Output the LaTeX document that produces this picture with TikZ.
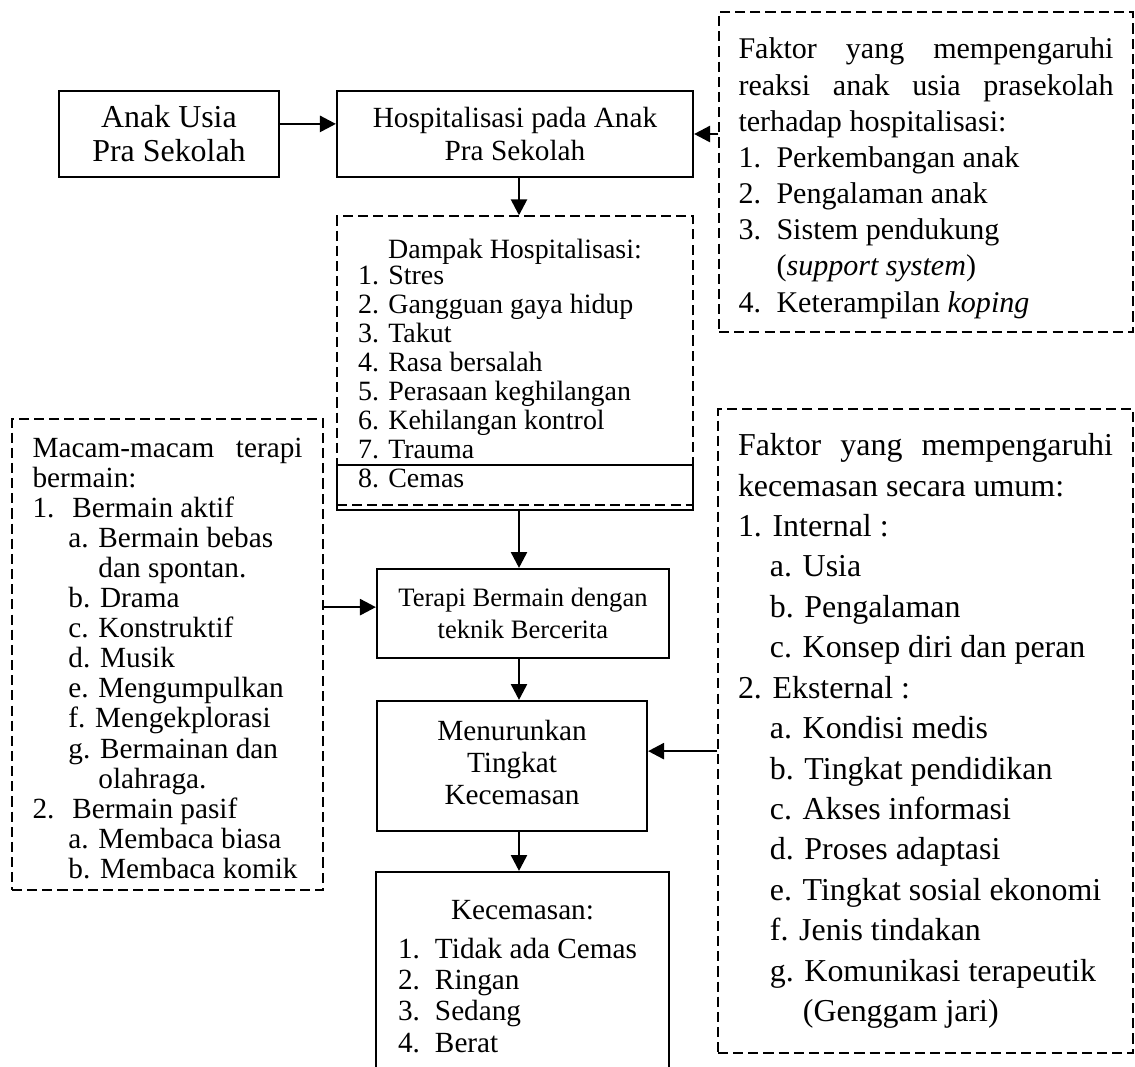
\documentclass[tikz,border=0pt]{standalone}
\usepackage{fontspec}
\setmainfont{Liberation Serif}
\usetikzlibrary{arrows.meta,positioning}

\begin{document}
\begin{tikzpicture}[x=0.376pt,y=-0.376pt]
    \tikzstyle{box}=[draw, line width=0.8pt, inner sep=0pt, align=flush center]
    \tikzstyle{dbox}=[draw, line width=0.55pt, dash pattern=on 3.8pt off 1.9pt, inner sep=0pt, align=flush left]
    \tikzstyle{arr}=[-{Triangle[length=6pt,width=6pt]}, line width=1pt]

    \useasboundingbox (0,0) rectangle (1135,1066);
    \clip (0,0) rectangle (1135,1066);
    \coordinate (axis) at (519,0);

    % top row
    \node[box, minimum width=82.72pt, minimum height=32.34pt, font=\fontsize{12}{12.8}\selectfont] (anak) at (169,134) {Anak Usia\\Pra Sekolah};
    \node[box, minimum width=133.86pt, minimum height=32.34pt, font=\fontsize{11}{12.4}\selectfont] (hosp) at (515,134) {Hospitalisasi pada Anak\\Pra Sekolah};
    \node[dbox, minimum width=155.66pt, minimum height=120.32pt, text width=141pt, font=\fontsize{11.3}{13.6}\selectfont] (fak1) at (926,172)
      {\rule{0pt}{12.5pt}\makebox[141pt][s]{Faktor yang mempengaruhi}\\
       \makebox[141pt][s]{reaksi anak usia prasekolah}\\
       terhadap hospitalisasi:\\
       \makebox[14.3pt][l]{1.}Perkembangan anak\\
       \makebox[14.3pt][l]{2.}Pengalaman anak\\
       \makebox[14.3pt][l]{3.}Sistem pendukung\\
       \hspace*{14.3pt}(\textit{support system})\\
       \makebox[14.3pt][l]{4.}Keterampilan \textit{koping}};

    % dampak
    \node[dbox, minimum width=133.86pt, minimum height=108.66pt, text width=118pt, font=\fontsize{10.5}{10.9}\selectfont] (dampak) at (515,360.5)
      {\rule{0pt}{9.2pt}\makebox[118pt][c]{Dampak Hospitalisasi:}\\[-1.1pt]
       1. Stres\\
       2. Gangguan gaya hidup\\
       3. Takut\\
       4. Rasa bersalah\\
       5. Perasaan keghilangan\\
       6. Kehilangan kontrol\\
       7. Trauma\\
       8. Cemas};
    \node[box, minimum width=133.86pt, minimum height=16.92pt] (cemas) at (515,487.5) {};

    % terapi bermain
    \node[dbox, minimum width=116.94pt, minimum height=177.1pt, text width=101.5pt, font=\fontsize{11}{11.3}\selectfont] (macam) at (167.5,654.5)
      {\rule{0pt}{10.2pt}\makebox[101.5pt][s]{Macam-macam terapi}\\
       bermain:\\
       \makebox[15pt][l]{1.}Bermain aktif\\
       \hspace*{13.5pt}a. Bermain bebas\\
       \hspace*{24.8pt}dan spontan.\\
       \hspace*{13.5pt}b. Drama\\
       \hspace*{13.5pt}c. Konstruktif\\
       \hspace*{13.5pt}d. Musik\\
       \hspace*{13.5pt}e. Mengumpulkan\\
       \hspace*{13.5pt}f. Mengekplorasi\\
       \hspace*{13.5pt}g. Bermainan dan\\
       \hspace*{24.8pt}olahraga.\\
       \makebox[15pt][l]{2.}Bermain pasif\\
       \hspace*{13.5pt}a. Membaca biasa\\
       \hspace*{13.5pt}b. Membaca komik};
    \node[box, minimum width=109.79pt, minimum height=33.46pt, font=\fontsize{10}{11.9}\selectfont] (terapi) at (523,613.5) {Terapi Bermain dengan\\teknik Bercerita};

    % kecemasan
    \node[box, minimum width=101.52pt, minimum height=48.88pt, font=\fontsize{11}{12.1}\selectfont] (menur) at (512,766) {Menurunkan\\Tingkat\\Kecemasan\rule[-3pt]{0pt}{0pt}};
    \node[dbox, minimum width=156.04pt, minimum height=242.14pt, text width=141pt, font=\fontsize{12}{15.2}\selectfont] (fak2) at (925.5,731)
      {\makebox[141pt][s]{Faktor yang mempengaruhi}\\
       kecemasan secara umum:\\
       1. Internal :\\
       \hspace*{12pt}a. Usia\\
       \hspace*{12pt}b. Pengalaman\\
       \hspace*{12pt}c. Konsep diri dan peran\\
       2. Eksternal :\\
       \hspace*{12pt}a. Kondisi medis\\
       \hspace*{12pt}b. Tingkat pendidikan\\
       \hspace*{12pt}c. Akses informasi\\
       \hspace*{12pt}d. Proses adaptasi\\
       \hspace*{12pt}e. Tingkat sosial ekonomi\\
       \hspace*{12pt}f. Jenis tindakan\\
       \hspace*{12pt}g. Komunikasi terapeutik\\
       \hspace*{24.4pt}(Genggam jari)};
    \node[box, minimum width=110.17pt, minimum height=74.45pt, text width=93.6pt, align=flush left, font=\fontsize{11}{11.7}\selectfont] (kecem) at (522.5,971)
      {\rule{0pt}{11.3pt}\makebox[93.6pt][c]{Kecemasan:}\\[3pt]
       \makebox[13.9pt][l]{1.}Tidak ada Cemas\\
       \makebox[13.9pt][l]{2.}Ringan\\
       \makebox[13.9pt][l]{3.}Sedang\\
       \makebox[13.9pt][l]{4.}Berat};

    % arrows
    \draw[arr, transform canvas={yshift=3.8pt}] (anak.east) -- (hosp.west);
    \draw[arr] (fak1.west |- hosp.east) -- (hosp.east);
    \draw[arr] (hosp.south -| axis) -- (dampak.north -| axis);
    \draw[arr] (cemas.south -| axis) -- (terapi.north -| axis);
    \draw[arr, transform canvas={yshift=2.4pt}] (macam.east |- terapi.west) -- (terapi.west);
    \draw[arr] (terapi.south -| axis) -- (menur.north -| axis);
    \draw[arr, transform canvas={yshift=5.6pt}] (fak2.west |- menur.east) -- (menur.east);
    \draw[arr] (menur.south -| axis) -- (kecem.north -| axis);
\end{tikzpicture}
\end{document}
